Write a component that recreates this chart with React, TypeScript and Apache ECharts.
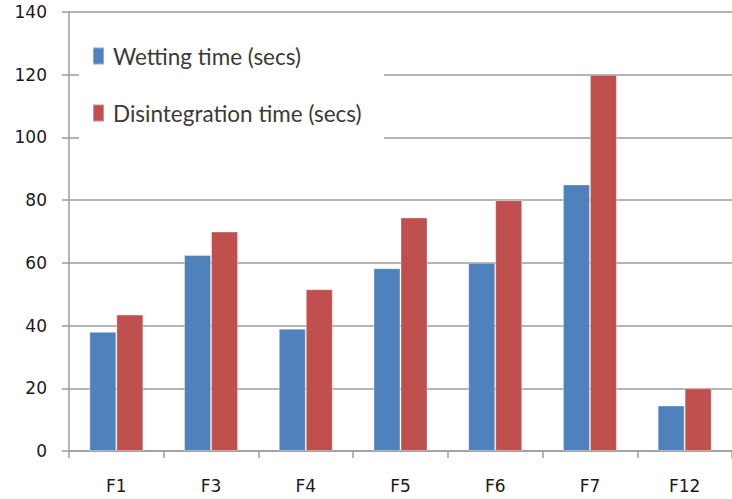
import React, { useEffect, useRef } from "react";
import * as echarts from "echarts";

const categories = ["F1", "F3", "F4", "F5", "F6", "F7", "F12"];
const wettingTime = [38, 62.5, 39, 58.3, 60, 85, 14.5];
const disintegrationTime = [43.5, 70, 51.6, 74.5, 80, 120, 20];
const seriesNames = ["Wetting time (secs)", "Disintegration time (secs)"];

const BLUE = "#4F81BD";
const RED = "#C0504D";
const AXIS_GRAY = "#9c9c9c";
const TICK_FONT = "'DejaVu Sans', Verdana, sans-serif";

export default function App() {
  const ref = useRef<HTMLDivElement>(null);

  useEffect(() => {
    if (!ref.current) return;
    const chart = echarts.init(ref.current, undefined, { renderer: "svg" });
    chart.setOption({
      animation: false,
      backgroundColor: "#ffffff",
      grid: { left: 69, top: 12, width: 672, height: 439, containLabel: false },
      legend: {
        orient: "vertical",
        left: 92,
        top: 44,
        padding: 0,
        itemWidth: 11,
        itemHeight: 17,
        itemGap: 33,
        icon: "rect",
        textStyle: {
          fontFamily: "Lato",
          fontSize: 22.5,
          lineHeight: 24,
          color: "#3a3a3a",
          padding: [0, 0, 0, 4],
        },
        data: seriesNames,
      },
      // white panel behind the legend that hides the grid lines there
      graphic: [
        {
          type: "rect",
          z: 1,
          shape: { x: 79, y: 14, width: 305, height: 131 },
          style: { fill: "#ffffff" },
          silent: true,
        },
      ],
      xAxis: {
        type: "category",
        data: categories,
        axisLine: { lineStyle: { color: AXIS_GRAY, width: 1.5 } },
        axisTick: { show: true, length: 7, lineStyle: { color: AXIS_GRAY, width: 1.5 } },
        axisLabel: {
          color: "#1a1a1a",
          fontFamily: TICK_FONT,
          fontSize: 17,
          margin: 26,
        },
        splitLine: { show: false },
      },
      yAxis: {
        type: "value",
        min: 0,
        max: 140,
        interval: 20,
        axisLine: { show: true, lineStyle: { color: AXIS_GRAY, width: 1.5 } },
        axisTick: { show: true, length: 7, lineStyle: { color: AXIS_GRAY, width: 1.5 } },
        axisLabel: {
          color: "#1a1a1a",
          fontFamily: TICK_FONT,
          fontSize: 17,
          margin: 22,
        },
        splitLine: { show: true, lineStyle: { color: AXIS_GRAY, width: 1.5 } },
      },
      series: [
        {
          name: seriesNames[0],
          type: "bar",
          data: wettingTime,
          barGap: "0%",
          barCategoryGap: "43%",
          itemStyle: { color: BLUE, borderColor: "rgba(255,255,255,0.35)", borderWidth: 1 },
        },
        {
          name: seriesNames[1],
          type: "bar",
          data: disintegrationTime,
          barGap: "0%",
          barCategoryGap: "43%",
          itemStyle: { color: RED, borderColor: "rgba(255,255,255,0.35)", borderWidth: 1 },
        },
      ],
    });
    return () => chart.dispose();
  }, []);

  return <div ref={ref} style={{ width: 732, height: 499, position: "absolute", left: 0, top: 0 }} />;
}
